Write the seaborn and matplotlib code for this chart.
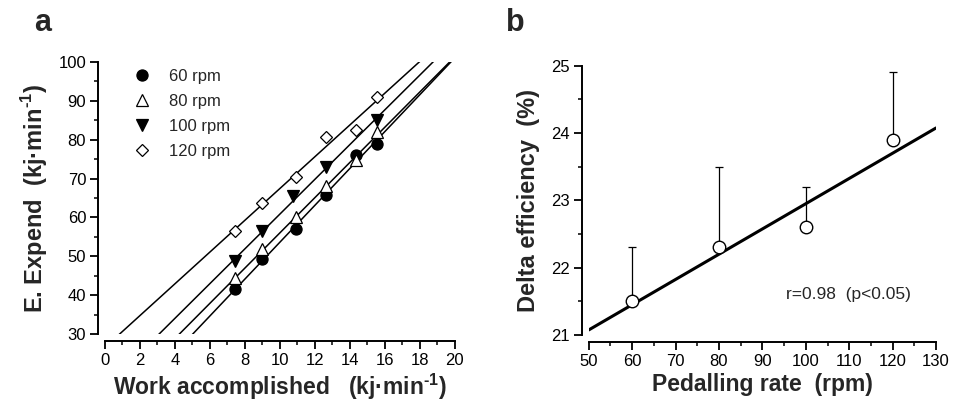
import numpy as np
import pandas as pd
import seaborn as sns
import matplotlib.pyplot as plt
from matplotlib.ticker import MultipleLocator

sns.set_style("ticks")
plt.rcParams['font.family'] = ['Liberation Sans', 'DejaVu Sans']
plt.rcParams['mathtext.fontset'] = 'custom'
plt.rcParams['mathtext.rm'] = 'Liberation Sans:bold'
plt.rcParams['mathtext.bf'] = 'Liberation Sans:bold'

# Panel a: work accomplished vs energy expenditure for each cadence
work = [7.45, 9.0, 10.9, 12.65, 14.35, 15.55]
e_60 = [41.6, 49.3, 57.0, 65.8, 76.1, 79.0]
e_80 = [44.4, 51.9, 60.0, 68.0, 74.7, 82.1]
work_100 = [7.45, 9.0, 10.75, 12.65, 15.55]
e_100 = [48.7, 56.4, 65.4, 72.9, 85.1]
e_120 = [56.6, 63.8, 70.4, 80.8, 82.5, 91.1]
rpm_labels = ["60 rpm", "80 rpm", "100 rpm", "120 rpm"]

# Panel b: delta efficiency vs pedalling rate
rate = [60, 80, 100, 120]
delta_eff = [21.5, 22.3, 22.6, 23.9]
delta_sd = [0.8, 1.2, 0.6, 1.0]

fig = plt.figure(figsize=(9.62, 4.07), dpi=100)
ax1 = fig.add_axes([0.1091, 0.1794, 0.3638, 0.6683])
ax2 = fig.add_axes([0.612, 0.1769, 0.361, 0.6617])

series = [
    (work, e_60, "o", "black"),
    (work, e_80, "^", "white"),
    (work_100, e_100, "v", "black"),
    (work, e_120, "D", "white"),
]

ax1.set_xlim(0, 20)
ax1.set_ylim(30, 100)
handles = []
for (xs, ys, mk, fc), lab in zip(series, rpm_labels):
    sns.regplot(x=np.array(xs), y=np.array(ys), ax=ax1, ci=None, scatter=False,
                truncate=False, line_kws=dict(color="black", lw=1.1))
    ms = 6.5 if mk == "D" else 8
    h, = ax1.plot(xs, ys, linestyle="none", marker=mk, markersize=ms,
                  markerfacecolor=fc, markeredgecolor="black", markeredgewidth=0.9,
                  label=lab, zorder=5)
    handles.append(h)
ax1.set_xlim(0, 20)
ax1.set_ylim(30, 100)
ax1.xaxis.set_major_locator(MultipleLocator(2))
ax1.xaxis.set_minor_locator(MultipleLocator(1))
ax1.yaxis.set_major_locator(MultipleLocator(10))
ax1.yaxis.set_minor_locator(MultipleLocator(5))
sup = "$^{\\text{-1}}$"
ax1.set_xlabel("Work accomplished   (kj·min" + sup + ")", fontsize=16.5, fontweight="bold",
               labelpad=3)
ax1.set_ylabel("E. Expend  (kj·min" + sup + ")", fontsize=17, fontweight="bold",
               labelpad=6)
ax1.legend(handles=handles, loc="upper left", bbox_to_anchor=(0.04, 1.03), frameon=False,
           fontsize=12, handlelength=1.0, handletextpad=1.1, labelspacing=0.6)

ax2.set_xlim(50, 130)
ax2.set_ylim(21, 25)
sns.regplot(x=np.array(rate), y=np.array(delta_eff), ax=ax2, ci=None, scatter=False,
            truncate=False, line_kws=dict(color="black", lw=2.2))
ax2.errorbar(rate, delta_eff, yerr=[np.zeros(len(delta_sd)), delta_sd], fmt="none",
             ecolor="black", elinewidth=0.9, capsize=3, capthick=0.9, zorder=3)
ax2.plot(rate, delta_eff, linestyle="none", marker="o", markersize=9,
         markerfacecolor="white", markeredgecolor="black", markeredgewidth=1.0, zorder=5)
ax2.set_xlim(50, 130)
ax2.set_ylim(21, 25)
ax2.xaxis.set_major_locator(MultipleLocator(10))
ax2.xaxis.set_minor_locator(MultipleLocator(5))
ax2.yaxis.set_major_locator(MultipleLocator(1))
ax2.yaxis.set_minor_locator(MultipleLocator(0.5))
ax2.set_xlabel("Pedalling rate  (rpm)", fontsize=16.5, fontweight="bold", labelpad=3)
ax2.set_ylabel("Delta efficiency  (%)", fontsize=17, fontweight="bold", labelpad=8)
ax2.text(95.5, 21.6, "r=0.98  (p<0.05)", fontsize=12.5, va="center")

for ax in (ax1, ax2):
    sns.despine(ax=ax, offset=5)
    for s in ("left", "bottom"):
        ax.spines[s].set_linewidth(1.4)
        ax.spines[s].set_color("black")
    ax.tick_params(which="major", length=5.5, width=1.3, labelsize=12, colors="black", pad=3)
    ax.tick_params(which="minor", length=3, width=1.1, colors="black")

fig.text(0.035, 0.924, "a", fontsize=22, fontweight="bold")
fig.text(0.526, 0.924, "b", fontsize=22, fontweight="bold")

fig.savefig("out.png", dpi=100)
